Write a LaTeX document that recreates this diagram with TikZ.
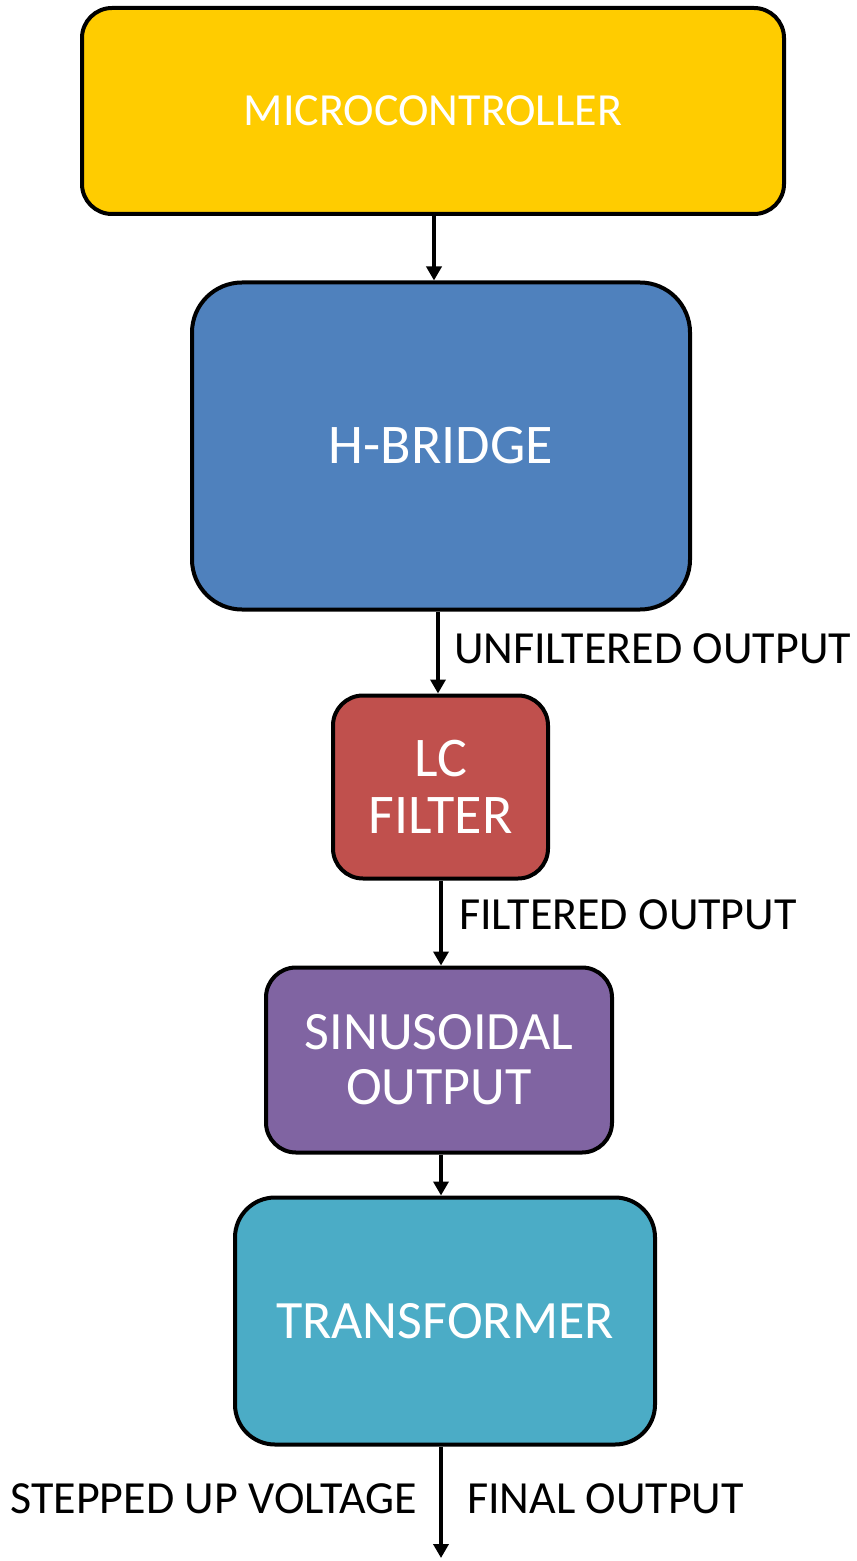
\documentclass[tikz,border=0pt]{standalone}
\usepackage{fontspec}
\setmainfont{Carlito}
\usepackage{xcolor}
\usepackage{tikz}
\usetikzlibrary{shapes,positioning,arrows.meta}
\definecolor{mcuyellow}{HTML}{FFCC00}
\definecolor{bridgeblue}{HTML}{4F81BD}
\definecolor{filterred}{HTML}{C0504D}
\definecolor{sinepurple}{HTML}{8064A2}
\definecolor{xfmrcyan}{HTML}{4BACC6}
\tikzset{
	unit/.style = {
		draw, line width=2pt, rectangle, rounded corners=15pt, align=center,
		text=white, font=\fontsize{23}{27}\selectfont, inner sep=0pt
	}
}
\tikzset{
	flow/.style = {
		line width=2pt, -{Triangle[length=7pt,width=7.5pt]}
	}
}
\tikzset{
	tag/.style = {
		inner sep=0pt, font=\fontsize{23}{27}\selectfont
	}
}

\begin{document}
\begin{tikzpicture}[x=0.5pt, y=-0.5pt]
	\useasboundingbox (0,0) rectangle (856,1561);
	\node[unit, fill=mcuyellow, minimum width=351pt, minimum height=103pt](MCU) at (433,111) {MICROCONTROLLER};
	\node[unit, fill=bridgeblue, rounded corners=25pt, font=\fontsize{28}{28}\selectfont, minimum width=249pt, minimum height=163.5pt](HBridge) at (441,446) {H-BRIDGE};
	\node[unit, fill=filterred, font=\fontsize{28}{28.5}\selectfont, minimum width=107.5pt, minimum height=91.5pt](LCFilter) at (440.5,787) {LC\\FILTER};
	\node[unit, fill=sinepurple, font=\fontsize{27}{27.5}\selectfont, minimum width=173pt, minimum height=92.5pt](SineOut) at (439,1060) {SINUSOIDAL\\OUTPUT};
	\node[unit, fill=xfmrcyan, rounded corners=20pt, font=\fontsize{27}{27}\selectfont, minimum width=210pt, minimum height=123.5pt](Transformer) at (445,1321) {TRANSFORMER};
	\coordinate (FinalEnd) at (441,1558);
	% connectors
	\draw[flow] (MCU.south -| 434,0) -- (HBridge.north -| 434,0);
	\draw[flow] (HBridge.south -| 438,0) -- (LCFilter.north -| 438,0)
		node[tag, pos=0.45, anchor=west, xshift=7pt](UnfilteredTag){UNFILTERED OUTPUT};
	\draw[flow] (LCFilter.south -| 441,0) -- (SineOut.north -| 441,0)
		node[tag, pos=0.4, anchor=west, xshift=8pt](FilteredTag){FILTERED OUTPUT};
	\draw[flow] (SineOut.south -| 441,0) -- (Transformer.north -| 441,0);
	\draw[flow] (Transformer.south -| FinalEnd) -- (FinalEnd)
		node[tag, pos=0.47, anchor=east, xshift=-11pt](SteppedTag){STEPPED UP VOLTAGE}
		node[tag, pos=0.47, anchor=west, xshift=12pt](FinalTag){FINAL OUTPUT};
\end{tikzpicture}
\end{document}
